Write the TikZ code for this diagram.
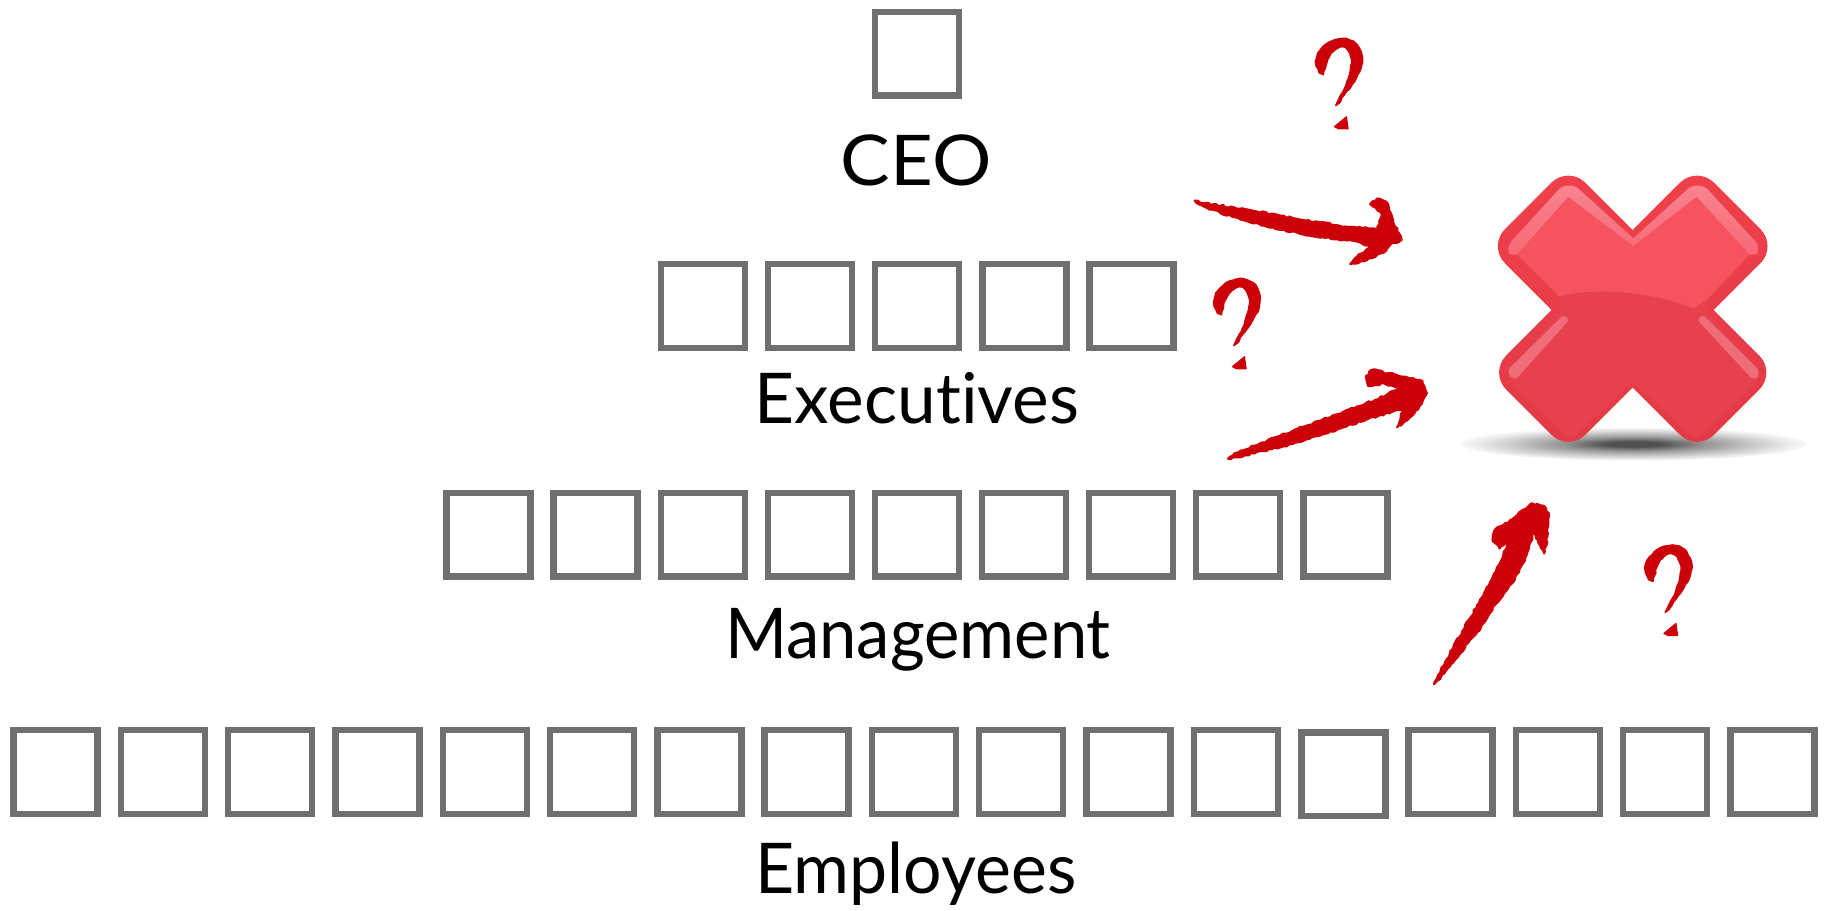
\documentclass[tikz,border=0pt]{standalone}
\usepackage{fontspec}
\usepackage{graphicx}
\setmainfont{Lato}[Ligatures=NoCommon]
\usetikzlibrary{decorations.pathmorphing}
\definecolor{boxgray}{HTML}{6F6F6F}
\definecolor{ink}{HTML}{CC0008}
\definecolor{rimtop}{HTML}{EF404B}
\definecolor{rimlow}{HTML}{E23A46}
\definecolor{bodytop}{HTML}{F5545F}
\definecolor{bodylow}{HTML}{E6414D}
\definecolor{shine}{HTML}{F98490}
\definecolor{shineb}{HTML}{EE6D79}
\definecolor{sd}{HTML}{505050}
\definecolor{se}{HTML}{929292}
\definecolor{sf}{HTML}{C6C6C6}
\definecolor{sg}{HTML}{EEEEEE}
\pgfdeclareradialshading{shadowglow}{\pgfpoint{0bp}{0bp}}{color(0bp)=(sd); color(4bp)=(sd); color(10bp)=(se); color(17bp)=(sf); color(23bp)=(sg); color(25bp)=(white!97!black); color(50bp)=(white)}
\tikzset{
  pawn/.style={draw=boxgray,line width=6.4pt,fill=white,rectangle,inner sep=0pt,minimum width=84pt,minimum height=83.6pt},
  lab/.style={anchor=base,inner sep=0pt,text=black,font=\fontsize{70}{84}\selectfont},
  rough/.style={fill=ink,draw=ink,line width=1.6pt,line join=round,decorate,decoration={random steps,segment length=3.5pt,amplitude=0.5pt}},
  roughb/.style={fill=ink,draw=ink,line width=2.4pt,line join=round,decorate,decoration={random steps,segment length=3pt,amplitude=1pt}},
  zoomA/.style={shift={(1150,0)},xscale=0.4337,yscale=0.3333},
  zoomB/.style={shift={(1150,440)},xscale=0.4337,yscale=0.3333}
}
\newcommand{\xshape}{(1632.7,230) -- (1680,182.7) .. controls (1689.4,173.3) and (1704.6,173.3) .. (1714,182.7)
 -- (1760.5,229.2) .. controls (1769.9,238.6) and (1769.9,253.8) .. (1760.5,263.2)
 -- (1713.7,310) -- (1759.25,355.55) .. controls (1768.65,364.95) and (1768.65,380.15) .. (1759.25,389.55)
 -- (1714,434.8) .. controls (1704.6,444.2) and (1689.4,444.2) .. (1680,434.8)
 -- (1632.7,387.5) -- (1585.4,434.8) .. controls (1576,444.2) and (1560.8,444.2) .. (1551.4,434.8)
 -- (1506.15,389.55) .. controls (1496.75,380.15) and (1496.75,364.95) .. (1506.15,355.55)
 -- (1551.7,310) -- (1504.9,263.2) .. controls (1495.5,253.8) and (1495.5,238.6) .. (1504.9,229.2)
 -- (1551.4,182.7) .. controls (1560.8,173.3) and (1576,173.3) .. (1585.4,182.7) -- cycle}
\newcommand{\qmark}[2]{%
 \begin{scope}[shift={(#1,#2)}]
 \begin{scope}[zoomA]
  \fill[rough] plot[smooth cycle,tension=0.5] coordinates {(398,222) (383,195) (388,160) (412,128) (445,116) (472,128) (488,165) (486,205) (468,250) (448,285) (437,308) (438,295) (452,255) (462,210) (464,178) (455,150) (440,142) (422,155) (410,178) (404,205)};
  \fill[ink,line join=round,draw=ink,line width=1pt] (425,380) -- (453,350) -- (457,387) -- (435,387) -- cycle;
 \end{scope}
 \end{scope}}
\pgfmathsetseed{7}
\begin{document}
\begin{tikzpicture}[x=1pt,y=-1pt]
\useasboundingbox (0,0) rectangle (1830,910);
% boxes
\node[pawn] (c0) at (917,53.5) {};
\foreach \i in {0,...,4} { \node[pawn] (x\i) at ({703+107.1*\i},306) {}; }
\foreach \i in {0,...,8} { \node[pawn] (m\i) at ({488.5+107.1*\i},534.5) {}; }
\foreach \i in {0,...,11,13,14,15,16} { \node[pawn] (e\i) at ({55.5+107.3*\i},772) {}; }
\node[pawn] (e12) at (1343.3,774.3) {};
% labels
\node[lab] (lc) at (916,185) {\scalebox{1.06}[1]{CEO}};
\node[lab] (lx) at (917,423) {\scalebox{0.99}[1]{Executives}};
\node[lab] (lm) at (918,658) {\scalebox{0.955}[1]{Management}};
\node[lab] (le) at (916,893) {\scalebox{0.97}[1]{Employees}};
% shadow
\shade[shading=shadowglow] (1633.5,444) ellipse [x radius=172,y radius=16.5];
% red X
\shade[top color=rimtop,bottom color=rimlow] \xshape;
\fill[bodylow] (1558,285) -- (1708,285) -- (1706,318) -- (1560,318) -- cycle;
\begin{scope}[shift={(1450,300)},scale=0.3333]
 \fill[bodylow] (320,40) -- (180,215) .. controls (172,228) and (172,235) .. (185,250) -- (345,405) .. controls (358,414) and (370,414) .. (380,405) -- (548,245) -- (720,405) .. controls (730,414) and (742,414) .. (755,405) -- (915,250) .. controls (928,235) and (928,228) .. (920,215) -- (780,40) -- cycle;
\end{scope}
\begin{scope}[shift={(1480,160)},scale=0.3333]
 \fill[bodytop] (112,285) -- (265,110) -- (460,258) -- (650,110) -- (808,285) -- (680,420) -- (640,445) .. controls (560,410) and (430,392) .. (350,395) .. controls (300,397) and (270,400) .. (238,410) -- cycle;
 \shade[top color=shine,bottom color=shine!45!bodytop] (88,282) .. controls (84,262) and (85,255) .. (95,243) -- (235,90) .. controls (250,72) and (285,72) .. (300,90) -- (460,235) -- (460,258) -- (265,110) -- (110,285) -- cycle;
 \shade[top color=shine,bottom color=shine!45!bodytop] (832,282) .. controls (836,262) and (835,255) .. (825,243) -- (685,90) .. controls (670,72) and (635,72) .. (620,90) -- (460,235) -- (460,258) -- (650,110) -- (810,285) -- cycle;
\end{scope}
\begin{scope}[shift={(1450,300)},scale=0.3333]
 \fill[shineb] (335,50) .. controls (345,44) and (358,55) .. (353,65) -- (200,235) .. controls (185,240) and (172,225) .. (178,205) -- cycle;
 \fill[shineb] (765,50) .. controls (755,44) and (742,55) .. (747,65) -- (905,235) .. controls (922,242) and (930,225) .. (922,205) -- cycle;
\end{scope}
% question marks
\qmark{0}{0}
\qmark{-102}{240}
\qmark{329.5}{506.7}
% arrows
\begin{scope}[zoomA]
 \fill[roughb] (103,602) -- (125,610) -- (220,628) -- (330,655) -- (450,680) -- (525,688) -- (535,645) -- (520,622) -- (508,612) -- (524,596) -- (545,606) -- (560,660) -- (580,720) -- (555,732) -- (538,758) -- (500,780) -- (462,792) -- (478,770) -- (508,742) -- (480,725) -- (370,707) -- (270,680) -- (190,650) -- (125,620) -- cycle;
 \fill[roughb] (180,1376) -- (195,1360) -- (300,1308) -- (420,1248) -- (520,1200) -- (575,1165) -- (540,1150) -- (503,1158) -- (498,1128) -- (512,1110) -- (550,1120) -- (600,1136) -- (628,1143) -- (638,1180) -- (618,1228) -- (590,1262) -- (570,1282) -- (578,1250) -- (585,1225) -- (500,1258) -- (400,1302) -- (300,1342) -- (200,1372) -- cycle;
\end{scope}
\begin{scope}[zoomB]
 \fill[roughb] (655,732) -- (665,705) -- (700,620) -- (738,535) -- (782,435) -- (815,345) -- (830,295) -- (806,325) -- (790,300) -- (795,270) -- (835,238) -- (880,190) -- (908,198) -- (920,228) -- (916,290) -- (909,340) -- (895,300) -- (885,275) -- (868,345) -- (838,425) -- (795,495) -- (755,575) -- (712,645) -- (678,700) -- cycle;
\end{scope}
\end{tikzpicture}
\end{document}
